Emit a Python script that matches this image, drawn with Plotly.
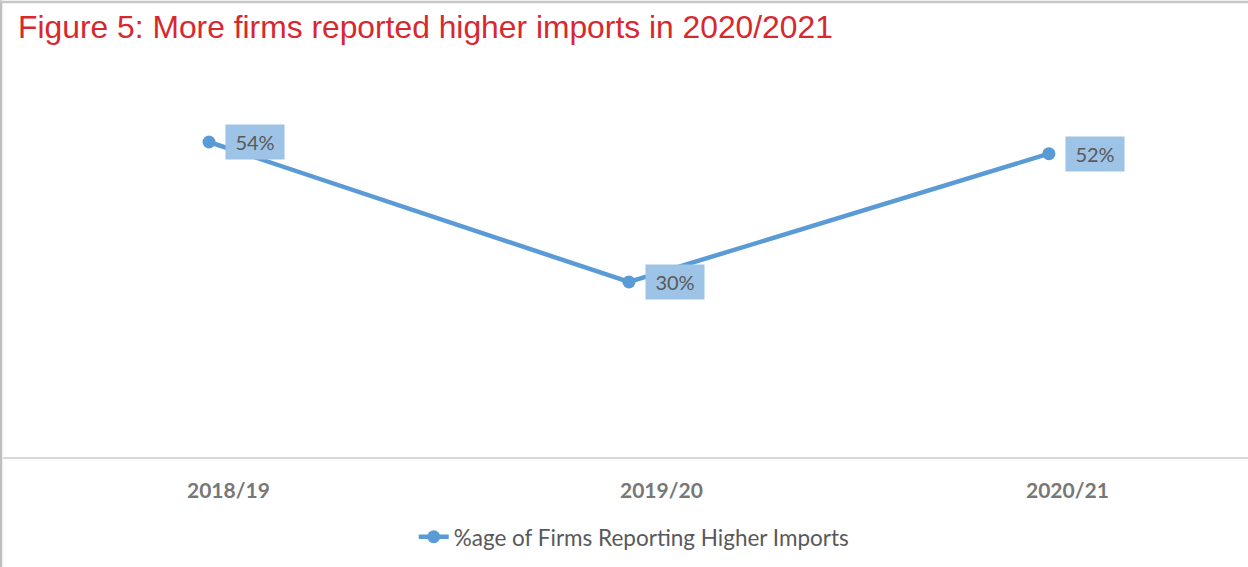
import plotly.graph_objects as go

categories = ["2018/19", "2019/20", "2020/21"]
values = [54, 30, 52]
series_name = "%age of Firms Reporting Higher Imports"
title_text = "Figure 5: More firms reported higher imports in 2020/2021"

line_color = "#5B9BD5"
label_bg = "#9DC3E6"
text_grey = "#595959"
tick_grey = "#777777"
tick_label_shift = [19, 33, 19]

fig = go.Figure()
fig.add_trace(go.Scatter(
    x=list(range(len(categories))), y=values, mode="lines+markers",
    name=series_name,
    line=dict(color=line_color, width=4.5),
    marker=dict(color=line_color, size=13),
))

for i, v in enumerate(values):
    fig.add_annotation(
        x=i, y=v, xref="x", yref="y", text=f"{v}%", showarrow=False,
        xanchor="left", xshift=16, bgcolor=label_bg,
        font=dict(family="Lato", size=20, color=text_grey),
        borderpad=5, width=48,
    )

for i, c in enumerate(categories):
    fig.add_annotation(
        x=i, y=-0.094, xref="x", yref="paper", text=f"<b>{c}</b>", showarrow=False,
        xanchor="center", yanchor="middle", xshift=tick_label_shift[i],
        font=dict(family="Lato", size=21, color=tick_grey),
    )

fig.update_layout(
    width=1248, height=567,
    margin=dict(l=3, r=0, t=107, b=110, autoexpand=False),
    paper_bgcolor="white", plot_bgcolor="white",
    title=dict(text=title_text, x=0.0145, xanchor="left", xref="container",
               y=0.952, yanchor="middle", yref="container",
               font=dict(family="Liberation Sans", size=31.8, color="#D7282F")),
    xaxis=dict(range=[-0.4905, 2.474], tickmode="array",
               tickvals=list(range(len(categories))), ticktext=categories,
               showticklabels=False,
               showgrid=False, zeroline=False, showline=True,
               linecolor="#D9D9D9", linewidth=2, ticks=""),
    yaxis=dict(range=[0, 60], visible=False, showgrid=False, zeroline=False),
    showlegend=True,
    legend=dict(orientation="h", x=0.507, xanchor="center", y=-0.229, yanchor="middle",
                font=dict(family="Lato", size=22.5, color=text_grey)),
    shapes=[
        dict(type="line", xref="paper", yref="paper", x0=-0.0016, x1=-0.0016, y0=-0.32, y1=1.305,
             line=dict(color="#BFBFBF", width=2.5)),
        dict(type="line", xref="paper", yref="paper", x0=-0.003, x1=1.0, y0=1.3, y1=1.3,
             line=dict(color="#C8C8C8", width=2.5)),
    ],
)

fig.write_html("out.html")
